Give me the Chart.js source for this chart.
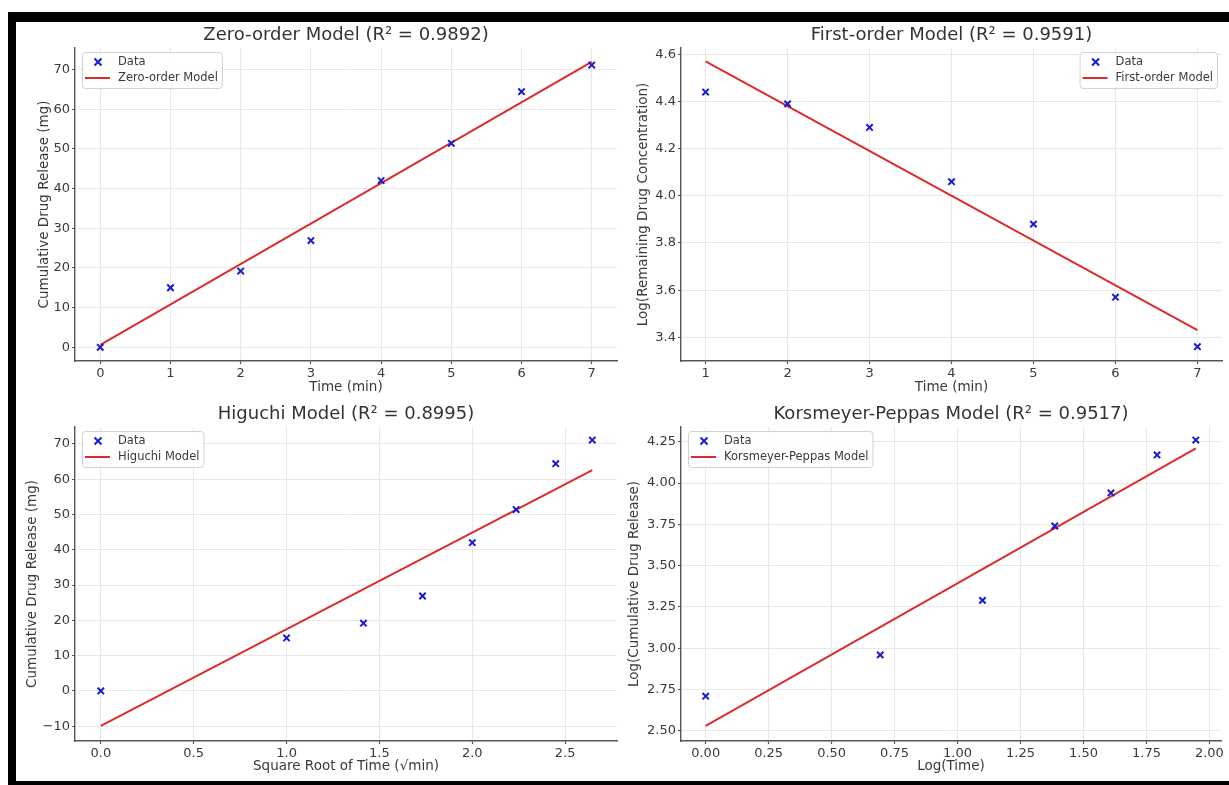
<!DOCTYPE html>
<html>
<head>
<meta charset="utf-8">
<title>Drug release kinetics – model fits</title>
<script src="https://cdn.jsdelivr.net/npm/chart.js@4/dist/chart.umd.min.js"></script>
<style>
  html, body { margin: 0; padding: 0; background: #fff; overflow: hidden; }
  body { width: 1229px; height: 785px; position: relative; }
  canvas { position: absolute; left: 0; top: 0; pointer-events: none; }
  .frame { position: absolute; background: #000; }
</style>
</head>
<body>
<div class="frame" style="left:8px; top:12px; width:1221px; height:10px;"></div>
<div class="frame" style="left:8px; top:12px; width:8px; height:773px;"></div>
<div class="frame" style="left:8px; top:781px; width:1221px; height:4px;"></div>
<canvas id="zero" width="1229" height="785"></canvas>
<canvas id="first" width="1229" height="785"></canvas>
<canvas id="higuchi" width="1229" height="785"></canvas>
<canvas id="peppas" width="1229" height="785"></canvas>
<script>
// ---- release data ----
const timeMin = [0, 1, 2, 3, 4, 5, 6, 7];
const cumulativeRelease = [0, 15.0, 19.2, 26.9, 42.0, 51.4, 64.4, 71.1];
const zeroOrderFit = [0.6, 71.9];            // model value at first / last time

const firstOrderTime = [1, 2, 3, 4, 5, 6, 7];
const logRemaining = [4.44, 4.39, 4.29, 4.06, 3.88, 3.57, 3.36];
const firstOrderFit = [4.57, 3.43];

const sqrtTime = [0, 1.0, 1.414, 1.732, 2.0, 2.236, 2.449, 2.646];
const higuchiFit = [-9.9, 62.6];

const logTime = [0, 0.693, 1.099, 1.386, 1.609, 1.792, 1.946];
const logCumulative = [2.71, 2.96, 3.29, 3.74, 3.94, 4.17, 4.26];
const peppasFit = [2.53, 4.21];

// ---- tick values ----
const zeroXTicks = [0, 1, 2, 3, 4, 5, 6, 7];
const zeroYTicks = [0, 10, 20, 30, 40, 50, 60, 70];
const firstXTicks = [1, 2, 3, 4, 5, 6, 7];
const firstYTicks = [3.4, 3.6, 3.8, 4.0, 4.2, 4.4, 4.6];
const higuchiXTicks = [0, 0.5, 1.0, 1.5, 2.0, 2.5];
const higuchiYTicks = [-10, 0, 10, 20, 30, 40, 50, 60, 70];
const peppasXTicks = [0, 0.25, 0.5, 0.75, 1.0, 1.25, 1.5, 1.75, 2.0];
const peppasYTicks = [2.5, 2.75, 3.0, 3.25, 3.5, 3.75, 4.0, 4.25];

const FONT = '"DejaVu Sans", "Liberation Sans", sans-serif';
const DATA_BLUE = '#1a1ad2';
const FIT_RED = '#dc2b2b';
const GRID = '#e8e8e8';
const SPINE = '#555555';
const INK = '#3a3a3a';

Chart.defaults.font.family = FONT;
Chart.defaults.color = INK;

// Title above the plot area plus a framed legend inside it.
const panelDecor = {
  id: 'panelDecor',
  afterDraw(chart, args, opts) {
    const { ctx, chartArea: a } = chart;
    ctx.save();
    ctx.font = '18px ' + FONT;
    ctx.fillStyle = '#333';
    ctx.textAlign = 'center';
    ctx.textBaseline = 'middle';
    ctx.fillText(opts.title, (a.left + a.right) / 2, a.top - 13);

    const labels = chart.data.datasets.map(d => d.label);
    ctx.font = '11.5px ' + FONT;
    const textW = Math.max(...labels.map(l => ctx.measureText(l).width));
    const w = 36 + textW + 4;
    const h = 36;
    const x0 = opts.side === 'right' ? a.right - 5 - w : a.left + 7;
    const y0 = a.top + 4;
    ctx.beginPath();
    ctx.roundRect(x0 + 0.5, y0 + 0.5, w, h, 3);
    ctx.fillStyle = 'rgba(255,255,255,0.85)';
    ctx.fill();
    ctx.strokeStyle = '#d2d2d2';
    ctx.lineWidth = 1;
    ctx.stroke();

    // row 1: scatter marker
    const r1 = y0 + 10, r2 = y0 + 26;
    ctx.strokeStyle = DATA_BLUE;
    ctx.lineWidth = 2;
    const mx = x0 + 16, s = 3.5;
    ctx.beginPath();
    ctx.moveTo(mx - s, r1 - s); ctx.lineTo(mx + s, r1 + s);
    ctx.moveTo(mx + s, r1 - s); ctx.lineTo(mx - s, r1 + s);
    ctx.stroke();
    // row 2: line handle
    ctx.strokeStyle = FIT_RED;
    ctx.beginPath();
    ctx.moveTo(x0 + 3, r2); ctx.lineTo(x0 + 28, r2);
    ctx.stroke();

    ctx.fillStyle = INK;
    ctx.textAlign = 'left';
    ctx.textBaseline = 'middle';
    ctx.fillText(labels[0], x0 + 36, r1);
    ctx.fillText(labels[1], x0 + 36, r2);
    ctx.restore();
  }
};

function fmt(decimals) {
  return v => Number(v).toFixed(decimals).replace('-', '\u2212');
}

function axis(cfg, horizontal) {
  const p = cfg.panel;
  const lh = 13.5 * 1.2;
  return {
    type: 'linear',
    position: horizontal ? 'bottom' : 'left',
    min: horizontal ? cfg.xRange[0] : cfg.yRange[0],
    max: horizontal ? cfg.xRange[1] : cfg.yRange[1],
    afterBuildTicks: s => { s.ticks = (horizontal ? cfg.xTicks : cfg.yTicks).map(v => ({ value: v })); },
    afterFit: s => {
      if (horizontal) {
        s.height = (785 - (785 - p.xTitleY - lh / 2)) - p.b;
      } else {
        s.width = p.l - (p.yTitleX - lh / 2);
      }
      s.paddingLeft = s.paddingRight = s.paddingTop = s.paddingBottom = 0;
    },
    grid: { color: GRID, lineWidth: 1, drawTicks: true, tickLength: 3, tickColor: SPINE, tickWidth: 1.2 },
    border: { display: true, color: SPINE, width: 1.4 },
    ticks: {
      autoSkip: false, maxRotation: 0, minRotation: 0, padding: 2,
      color: INK, font: { size: 13 },
      callback: fmt(horizontal ? cfg.xDecimals : cfg.yDecimals)
    },
    title: {
      display: true, text: horizontal ? cfg.xTitle : cfg.yTitle,
      color: INK, font: { size: 13.5, lineHeight: 1.2 }, padding: 0
    }
  };
}

function makePanel(id, cfg) {
  const p = cfg.panel;
  const lh = 13.5 * 1.2;
  const points = cfg.x.map((x, i) => ({ x, y: cfg.y[i] }));
  const fitLine = [
    { x: cfg.x[0], y: cfg.fit[0] },
    { x: cfg.x[cfg.x.length - 1], y: cfg.fit[1] }
  ];
  return new Chart(document.getElementById(id), {
    type: 'scatter',
    data: {
      datasets: [
        {
          label: 'Data', data: points,
          pointStyle: 'crossRot', pointRadius: 4.5, pointBorderWidth: 2,
          borderColor: DATA_BLUE, backgroundColor: DATA_BLUE, order: 1
        },
        {
          label: cfg.fitLabel, data: fitLine, showLine: true,
          pointRadius: 0, borderColor: FIT_RED, borderWidth: 2, order: 2
        }
      ]
    },
    options: {
      responsive: false, animation: false, devicePixelRatio: 1, events: [],
      layout: {
        padding: {
          left: p.yTitleX - lh / 2,
          top: p.t,
          right: 1229 - p.r,
          bottom: 785 - p.xTitleY - lh / 2
        }
      },
      scales: { x: axis(cfg, true), y: axis(cfg, false) },
      plugins: {
        legend: { display: false },
        title: { display: false },
        tooltip: { enabled: false },
        panelDecor: { title: cfg.title, side: cfg.legendSide }
      }
    },
    plugins: [panelDecor]
  });
}

makePanel('zero', {
  title: 'Zero-order Model (R\u00B2 = 0.9892)',
  fitLabel: 'Zero-order Model', legendSide: 'left',
  x: timeMin, y: cumulativeRelease, fit: zeroOrderFit,
  xTicks: zeroXTicks, yTicks: zeroYTicks, xDecimals: 0, yDecimals: 0,
  xRange: [-0.36, 7.36], yRange: [-3.45, 75.4],
  xTitle: 'Time (min)', yTitle: 'Cumulative Drug Release (mg)',
  panel: { l: 75, t: 48, r: 617, b: 361, yTitleX: 44, xTitleY: 387.5 }
});

makePanel('first', {
  title: 'First-order Model (R\u00B2 = 0.9591)',
  fitLabel: 'First-order Model', legendSide: 'right',
  x: firstOrderTime, y: logRemaining, fit: firstOrderFit,
  xTicks: firstXTicks, yTicks: firstYTicks, xDecimals: 0, yDecimals: 1,
  xRange: [0.7, 7.3], yRange: [3.2995, 4.627],
  xTitle: 'Time (min)', yTitle: 'Log(Remaining Drug Concentration)',
  panel: { l: 681, t: 48, r: 1222, b: 361, yTitleX: 643.5, xTitleY: 387.5 }
});

makePanel('higuchi', {
  title: 'Higuchi Model (R\u00B2 = 0.8995)',
  fitLabel: 'Higuchi Model', legendSide: 'left',
  x: sqrtTime, y: cumulativeRelease, fit: higuchiFit,
  xTicks: higuchiXTicks, yTicks: higuchiYTicks, xDecimals: 1, yDecimals: 0,
  xRange: [-0.139, 2.779], yRange: [-14.2, 74.8],
  xTitle: 'Square Root of Time (\u221Amin)', yTitle: 'Cumulative Drug Release (mg)',
  panel: { l: 75, t: 427, r: 617, b: 741, yTitleX: 32, xTitleY: 766 }
});

makePanel('peppas', {
  title: 'Korsmeyer-Peppas Model (R\u00B2 = 0.9517)',
  fitLabel: 'Korsmeyer-Peppas Model', legendSide: 'left',
  x: logTime, y: logCumulative, fit: peppasFit,
  xTicks: peppasXTicks, yTicks: peppasYTicks, xDecimals: 2, yDecimals: 2,
  xRange: [-0.098, 2.046], yRange: [2.439, 4.339],
  xTitle: 'Log(Time)', yTitle: 'Log(Cumulative Drug Release)',
  panel: { l: 681, t: 427, r: 1221, b: 741, yTitleX: 634.5, xTitleY: 766 }
});
</script>
</body>
</html>
